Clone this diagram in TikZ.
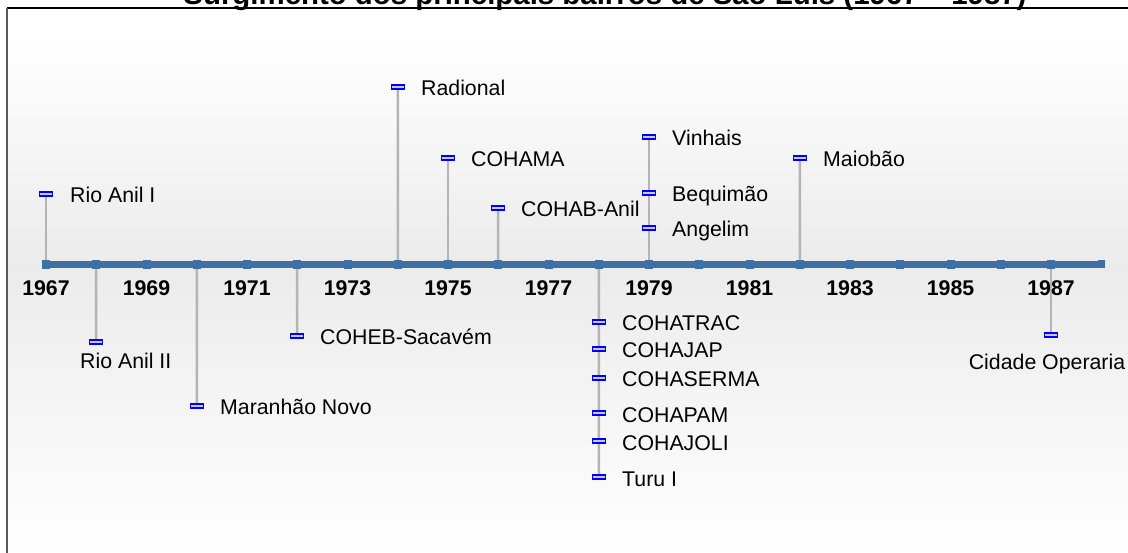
\documentclass[tikz,border=0pt]{standalone}
\usepackage{fontspec}
\setmainfont{Liberation Sans}
\definecolor{axisblue}{RGB}{62,112,164}
\definecolor{stemgray}{RGB}{180,180,180}
\definecolor{mkblue}{RGB}{0,0,255}
\definecolor{mkfill}{RGB}{200,200,255}
\definecolor{bggray}{RGB}{235,235,235}
\definecolor{framegray}{RGB}{90,90,90}
\pgfdeclarelayer{bg}
\pgfdeclarelayer{stems}
\pgfsetlayers{bg,stems,main}
\begin{document}
\begin{tikzpicture}[x=1pt,y=-1pt,
  lbl/.style={font=\fontsize{21.3}{24}\selectfont, inner sep=0pt, anchor=base west},
  yr/.style={font=\bfseries\fontsize{21.3}{24}\selectfont, inner sep=0pt, anchor=base},
  mk/.style={rectangle, draw=mkblue, fill=mkfill, line width=1.8pt, minimum width=13pt, minimum height=4pt, inner sep=0pt},
  stem/.style={draw=stemgray, line width=2.5pt},
  tickmark/.style={rectangle, fill=axisblue, minimum width=8pt, minimum height=9pt, inner sep=0pt},
]
\useasboundingbox (0,0) rectangle (1128,553);
\clip (0,0) rectangle (1128,553);
% background
\begin{pgfonlayer}{bg}
\fill[white] (0,0) rectangle (1128,553);
\shade[top color=white, bottom color=bggray] (7,40) rectangle (1128,265);
\shade[top color=bggray, bottom color=white] (7,265) rectangle (1128,553);
\end{pgfonlayer}
% title (cut by the top edge, as in the reference)
\node[font=\bfseries\fontsize{29.4}{32}\selectfont, anchor=base, inner sep=0pt] (title) at (605,5) {Surgimento dos principais bairros de São Luís (1967 – 1987)};
% frame
\draw[black, line width=1.5pt] (7,8) -- (1128,8);
\draw[framegray, line width=1.5pt] (7,8) -- (7,553);
% year positions
\foreach \i in {0,...,20} \coordinate (c\i) at ({46+50.25*\i},265);
% axis
\draw[axisblue, line width=7pt] (43,264.5) -- (1102,264.5);
\foreach \i in {0,...,20} \node[tickmark] (t\i) at (c\i) {};
\node[rectangle, fill=axisblue, minimum width=7pt, minimum height=8pt, inner sep=0pt] (axend) at (1101,264) {};
% markers
\node[mk] (m1) at (46,194) {};
\node[mk] (m2) at (96,342) {};
\node[mk] (m3) at (197,406) {};
\node[mk] (m4) at (297,336) {};
\node[mk] (m5) at (398,87) {};
\node[mk] (m6) at (448,158) {};
\node[mk] (m7) at (498,208) {};
\node[mk] (m8) at (599,322) {};
\node[mk] (m9) at (599,349) {};
\node[mk] (m10) at (599,378) {};
\node[mk] (m11) at (599,413) {};
\node[mk] (m12) at (599,441) {};
\node[mk] (m13) at (599,477) {};
\node[mk] (m14) at (649,137) {};
\node[mk] (m15) at (649,193) {};
\node[mk] (m16) at (649,228) {};
\node[mk] (m17) at (800,158) {};
\node[mk] (m18) at (1051,335) {};
% stems (behind axis and markers)
\begin{pgfonlayer}{stems}
\draw[stem] (c0) -- (m1.center);
\draw[stem] (c1) -- (m2.center);
\draw[stem] (c3) -- (m3.center);
\draw[stem] (c5) -- (m4.center);
\draw[stem] (c7) -- (m5.center);
\draw[stem] (c8) -- (m6.center);
\draw[stem] (c9) -- (m7.center);
\draw[stem] (c11) -- (m13.center);
\draw[stem] (c12) -- (m14.center);
\draw[stem] (c15) -- (m17.center);
\draw[stem] (c20) -- (m18.center);
\end{pgfonlayer}
% year labels
\foreach \y [count=\k from 0] in {1967,1969,...,1987}
  \node[yr] (yl\y) at ({46+100.5*\k},296) {\y};
% labels
\node[lbl] (l1) at (70,203) {Rio Anil I};
\node[lbl] (l2) at (80,369) {Rio Anil II};
\node[lbl] (l3) at (220,415) {Maranhão Novo};
\node[lbl] (l4) at (320,345) {COHEB-Sacavém};
\node[lbl] (l5) at (421,96) {Radional};
\node[lbl] (l6) at (471,167) {COHAMA};
\node[lbl] (l7) at (521,217) {COHAB-Anil};
\node[lbl] (l8) at (622,331) {COHATRAC};
\node[lbl] (l9) at (622,358) {COHAJAP};
\node[lbl] (l10) at (622,387) {COHASERMA};
\node[lbl] (l11) at (622,422) {COHAPAM};
\node[lbl] (l12) at (622,450) {COHAJOLI};
\node[lbl] (l13) at (622,486) {Turu I};
\node[lbl] (l14) at (672,146) {Vinhais};
\node[lbl] (l15) at (672,202) {Bequimão};
\node[lbl] (l16) at (672,237) {Angelim};
\node[lbl] (l17) at (823,167) {Maiobão};
\node[lbl, anchor=base] (l18) at (1047,370) {Cidade Operaria};
\end{tikzpicture}
\end{document}
